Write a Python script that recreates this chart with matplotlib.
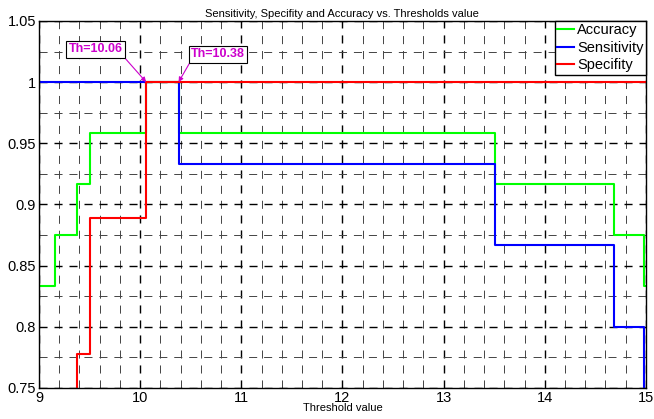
import numpy as np
import matplotlib
matplotlib.use("Agg")
import matplotlib.pyplot as plt

# step thresholds (left edge of each level) and level values
thresholds = [9.0, 9.16, 9.38, 9.50, 10.06, 10.38, 13.51, 14.685, 14.985, 15.0]
accuracy = [20/24, 21/24, 22/24, 23/24, 24/24, 23/24, 22/24, 21/24, 20/24, 20/24]
sensitivity = [1, 1, 1, 1, 1, 14/15, 13/15, 12/15, 11/15, 11/15]
specifity = [5/9, 6/9, 7/9, 8/9, 1, 1, 1, 1, 1, 1]

series = [
    ("Accuracy", accuracy, "#00ff00"),
    ("Sensitivity", sensitivity, "#0000ff"),
    ("Specifity", specifity, "#ff0000"),
]

annotations = [
    ("Th=10.06", 10.06, 9.56, 1.0267, (1, 0)),
    ("Th=10.38", 10.38, 10.77, 1.0226, (0, 0)),
]

plt.rcParams["font.family"] = ["Liberation Sans", "DejaVu Sans"]

fig = plt.figure(figsize=(6.54, 4.19), dpi=100)
ax = fig.add_axes([0.0596, 0.074, 0.928, 0.876])

for name, vals, color in series:
    ax.step(thresholds, vals, where="post", color=color, lw=1.5, label=name)

ax.set_xlim(9, 15)
ax.set_ylim(0.75, 1.05)
ax.set_xticks(np.arange(9, 16, 1))
ax.set_xticklabels([str(v) for v in range(9, 16)])
yt = [0.75, 0.8, 0.85, 0.9, 0.95, 1.0, 1.05]
ax.set_yticks(yt)
ax.set_yticklabels(["0.75", "0.8", "0.85", "0.9", "0.95", "1", "1.05"])
ax.set_xticks(np.arange(9, 15.01, 0.2), minor=True)
ax.set_yticks(np.arange(0.75, 1.0501, 0.025), minor=True)
ax.tick_params(which="both", direction="in", top=True, right=True, labelsize=10.5, pad=2)
ax.tick_params(which="both", length=0)

ax.grid(which="major", color="black", linestyle=(0, (5.8, 5.0)), linewidth=1.0)
ax.grid(which="minor", color="#444444", linestyle=(0, (8.3, 7.1)), linewidth=0.7)
ax.set_axisbelow(True)
for sp in ax.spines.values():
    sp.set_linewidth(1.0)

for text, xp, xt, yt_, rp in annotations:
    ax.annotate(text, xy=(xp, 1.0), xytext=(xt, yt_), ha="center", va="center",
                fontsize=9, fontweight="bold", color="#cc00cc",
                bbox=dict(boxstyle="square,pad=0.2", fc="white", ec="black", lw=0.8),
                arrowprops=dict(arrowstyle="-|>", color="#cc00cc", lw=0.8,
                                mutation_scale=7, relpos=rp, shrinkA=0, shrinkB=0))

ax.set_title("Sensitivity, Specifity and Accuracy vs. Thresholds value", fontsize=8, pad=3)
ax.set_xlabel("Threshold value", fontsize=8, labelpad=-1)

leg = ax.legend(loc="upper right", fontsize=10.5, borderaxespad=0, fancybox=False,
                framealpha=1, edgecolor="black", handlelength=1.2, handletextpad=0.2,
                labelspacing=0.25, borderpad=0.15)
leg.get_frame().set_linewidth(1.0)

fig.savefig("out.png", dpi=100)
